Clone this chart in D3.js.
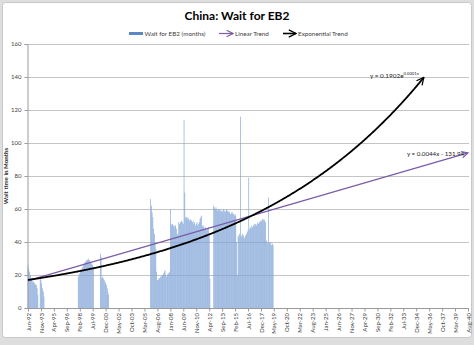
<!DOCTYPE html>
<html><head><meta charset="utf-8">
<script src="https://cdn.jsdelivr.net/npm/d3@7"></script>
<style>
html,body{margin:0;padding:0;background:#dedede;}
svg{display:block;}
text{font-family:Lato,"Liberation Sans",sans-serif;}
</style></head><body>
<svg id="chart" width="474" height="345"></svg>
<script>
// ---------- data ----------
const chartTitle = "China: Wait for EB2";
const yAxisTitle = "Wait time in Months";
const seriesNames = ["Wait for EB2 (months)", "Linear Trend", "Exponential Trend"];
const yTicks = [0, 20, 40, 60, 80, 100, 120, 140, 160];
const xTickLabels = ["Jun-92","Nov-93","Apr-95","Sep-96","Feb-98","Jul-99","Dec-00","May-02","Oct-03","Mar-05",
  "Aug-06","Jan-08","Jun-09","Nov-10","Apr-12","Sep-13","Feb-15","Jul-16","Dec-17","May-19","Oct-20","Mar-22",
  "Aug-23","Jan-25","Jun-26","Nov-27","Apr-29","Sep-30","Feb-32","Jul-33","Dec-34","May-36","Oct-37","Mar-39","Aug-40"];
// monthly bar blocks: first month of each block, then one value per month
const barBlockStarts = ["Jun-92", "Dec-97", "May-00", "Nov-05"];
const barBlockValues = [
  [26,24,22,20,18,17,16,16,15,15,14,14,12,8,0,0,19,17,15,12,10,7],
  [19,20,21,22,23,24,25,26,27,28,28,29,29,30,29,29,28,27,27,26,25],
  [33,31,18,19,18,17,16,15,14,12,10,8],
  [66,62,58,55,48,45,40,36,22,17,17,18,18,19,19,20,20,21,22,23,20,19,20,21,21,22,
   60,51,50,51,50,49,50,50,48,45,44,52,51,52,52,53,52,51,114,70,
   55,55,54,55,54,53,54,53,53,52,53,51,52,50,51,52,50,51,52,54,55,56,
   50,49,50,48,49,48,47,48,49,45,18,0,0,0,0,
   62,61,60,61,60,59,60,59,60,59,59,58,59,60,59,58,59,60,59,58,59,58,57,58,57,58,57,56,57,56,
   40,20,44,43,45,116,44,43,45,44,42,43,44,45,46,47,79,
   48,49,48,50,49,50,51,50,51,50,51,52,51,52,53,52,53,54,53,54,53,52,
   41,40,39,67,40,39,40,38,39,38]
];
// trend lines (Excel date serial x)
const linearCoef = [0.0044, -131.94];      // y = a*x + b
const expCoef = [0.1902, 0.0001331];       // y = a*e^(k*x)
const linearSpan = ["Jun-92", "Aug-40"];
const expSpan = ["Jun-92", "Oct-35"];
const eqTexts = ["y = 0.1902e", "0.0001x", "y = 0.0044x - 131.94"];

// ---------- chart ----------
const parse = d3.timeParse("%b-%y");
const svg = d3.select("#chart");
const L = 27, R = 469, T = 44, B = 308;
const x = d3.scaleTime().domain([parse(xTickLabels[0]), parse(xTickLabels[xTickLabels.length-1])]).range([28, 468]);
const y = d3.scaleLinear().domain([0, 160]).range([B, T]);
const monthPx = (x.range()[1]-x.range()[0]) / d3.timeMonth.count(x.domain()[0], x.domain()[1]);
const serial = d => (d - new Date(1899, 11, 30)) / 864e5;

svg.append("rect").attr("x", 2.5).attr("y", 2.5).attr("width", 469).attr("height", 335)
  .attr("rx", 3).attr("fill", "#fff").attr("stroke", "#c8c8c8");

// gridlines
svg.append("g").selectAll("line").data(yTicks.filter(v => v > 0)).join("line")
  .attr("x1", L).attr("x2", R).attr("y1", d => Math.round(y(d)) + 0.5).attr("y2", d => Math.round(y(d)) + 0.5)
  .attr("stroke", "#c4c4c4").attr("stroke-width", 1);

// bars
const bars = [];
barBlockStarts.forEach((s, bi) => {
  const d0 = parse(s);
  barBlockValues[bi].forEach((v, i) => bars.push({date: d3.timeMonth.offset(d0, i), value: v}));
});
svg.append("g").selectAll("rect").data(bars.filter(b => b.value > 0)).join("rect")
  .attr("x", d => x(d.date) - monthPx * 0.42).attr("width", monthPx * 0.84)
  .attr("y", d => y(d.value)).attr("height", d => y(0) - y(d.value))
  .attr("fill", "#7fa3d6");

// y axis
const yAxis = svg.append("g").attr("transform", `translate(${L + 0.5},0)`)
  .call(d3.axisLeft(y).tickValues(yTicks).tickSize(3).tickPadding(3).tickFormat(d3.format("d")));
yAxis.select(".domain").attr("stroke", "#9a9a9a");
yAxis.selectAll(".tick line").attr("stroke", "#9a9a9a");
yAxis.selectAll("text").attr("font-size", 6).attr("fill", "#404040").attr("font-family", "Lato");

// x axis
const xAxis = svg.append("g").attr("transform", `translate(0,${B + 0.5})`)
  .call(d3.axisBottom(x).tickValues(xTickLabels.map(parse)).tickSize(3).tickSizeOuter(0).tickFormat(d3.timeFormat("%b-%y")));
xAxis.select(".domain").attr("stroke", "#9a9a9a").attr("d", `M${L},0H${R}`);
xAxis.selectAll(".tick line").attr("stroke", "#9a9a9a");
xAxis.selectAll("text").attr("font-size", 6).attr("fill", "#404040").attr("font-family", "Lato")
  .attr("transform", "rotate(-90)").attr("text-anchor", "end").attr("x", -4.5).attr("y", 0).attr("dy", "0.35em");

// trend lines
const defs = svg.append("defs");
function marker(id, color, size) {
  defs.append("marker").attr("id", id).attr("viewBox", "0 0 10 10").attr("refX", 9).attr("refY", 5)
    .attr("markerUnits", "userSpaceOnUse").attr("markerWidth", size).attr("markerHeight", size).attr("orient", "auto")
    .append("path").attr("d", "M1,1L9,5L1,9").attr("fill", "none").attr("stroke", color).attr("stroke-width", 1.4);
}
marker("arrP", "#7a5ca8", 8);
marker("arrK", "#000", 9);
const line = d3.line().x(d => x(d.date)).y(d => y(d.value));
const linPts = [parse(linearSpan[0]), parse(linearSpan[1])].map(d => ({date: d, value: linearCoef[0] * serial(d) + linearCoef[1]}));
svg.append("path").datum(linPts).attr("d", line).attr("fill", "none").attr("stroke", "#7a5ca8")
  .attr("stroke-width", 1.2).attr("marker-end", "url(#arrP)");
const expPts = d3.timeMonth.range(parse(expSpan[0]), d3.timeMonth.offset(parse(expSpan[1]), 1))
  .map(d => ({date: d, value: expCoef[0] * Math.exp(expCoef[1] * serial(d))}));
svg.append("path").datum(expPts).attr("d", line).attr("fill", "none").attr("stroke", "#000")
  .attr("stroke-width", 1.8).attr("marker-end", "url(#arrK)");

// equations
const eq1 = svg.append("text").attr("x", 370).attr("y", 78).attr("font-size", 6.4).attr("fill", "#222");
eq1.append("tspan").text(eqTexts[0]);
eq1.append("tspan").attr("dy", -2.6).attr("font-size", 4.2).text(eqTexts[1]);
svg.append("text").attr("x", 407).attr("y", 156).attr("font-size", 6.2).attr("fill", "#222").text(eqTexts[2]);

// title
svg.append("text").attr("x", 237).attr("y", 20).attr("text-anchor", "middle")
  .attr("font-size", 12).attr("font-weight", "bold").attr("fill", "#000").text(chartTitle);

// y axis title
svg.append("text").attr("transform", `translate(8,${(T + B) / 2}) rotate(-90)`).attr("text-anchor", "middle")
  .attr("font-size", 6.2).attr("font-weight", "bold").attr("fill", "#333").text(yAxisTitle);

// legend
const lg = svg.append("g").attr("font-size", 6.3).attr("fill", "#404040");
lg.append("rect").attr("x", 129).attr("y", 32).attr("width", 14).attr("height", 3).attr("fill", "#5b86c4");
lg.append("text").attr("x", 144.5).attr("y", 35.8).text(seriesNames[0]);
lg.append("line").attr("x1", 219).attr("x2", 233).attr("y1", 33.5).attr("y2", 33.5).attr("stroke", "#7a5ca8")
  .attr("stroke-width", 1.2).attr("marker-end", "url(#arrP)");
lg.append("text").attr("x", 235).attr("y", 35.8).text(seriesNames[1]);
lg.append("line").attr("x1", 283).attr("x2", 296).attr("y1", 33.5).attr("y2", 33.5).attr("stroke", "#000")
  .attr("stroke-width", 1.6).attr("marker-end", "url(#arrK)");
lg.append("text").attr("x", 298).attr("y", 35.8).text(seriesNames[2]);
</script>
</body></html>
